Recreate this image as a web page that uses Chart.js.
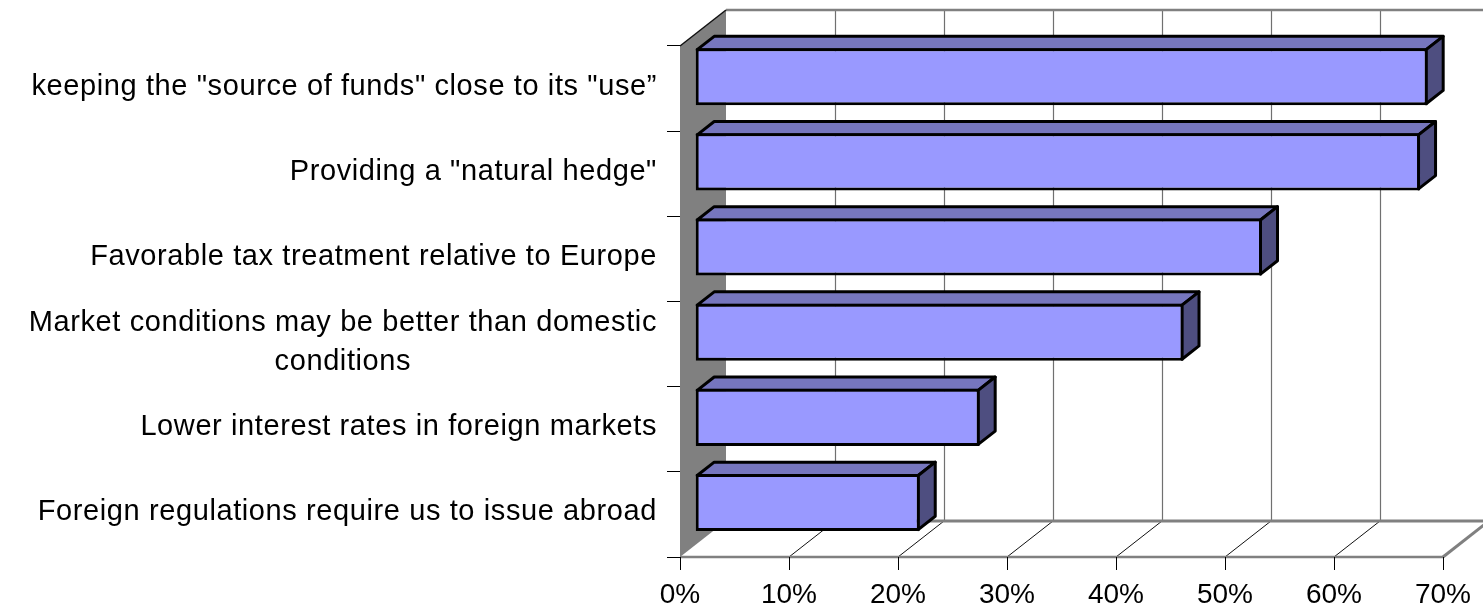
<!DOCTYPE html>
<html>
<head>
<meta charset="utf-8">
<title>Reasons for issuing debt abroad</title>
<script src="https://cdn.jsdelivr.net/npm/chart.js@4.4.1/dist/chart.umd.min.js"></script>
<style>
  html, body { margin: 0; padding: 0; background: #fff; }
  canvas { display: block; }
</style>
</head>
<body>
<canvas id="reasonsChart" width="1483" height="610"></canvas>
<script>
"use strict";

const categories = [
    'keeping the "source of funds" close to its "use\u201D',
    'Providing a "natural hedge"',
    'Favorable tax treatment relative to Europe',
    ['Market conditions may be better than domestic', 'conditions'],
    'Lower interest rates in foreign markets',
    'Foreign regulations require us to issue abroad'
];
const shares = [67.2, 66.5, 52.0, 44.8, 26.1, 20.6];
const percentTicks = [0, 10, 20, 30, 40, 50, 60, 70];

const FONT = "'Liberation Sans', Arial, sans-serif";
const LABEL_SIZE = 29;
const TICK_SIZE = 28;

// oblique depth of the plot box; the bars sit between 33% and 70% of it
const DEPTH_X = 46, DEPTH_Y = -36;
const BAR_FRONT = 0.33, BAR_BACK = 0.70;

const FRONT_COLOR = '#9999FF';
const TOP_COLOR = '#7676BE';
const SIDE_COLOR = '#4E4E80';
const WALL_GRAY = '#808080';

function line(ctx, x1, y1, x2, y2, color, width) {
    ctx.beginPath();
    ctx.moveTo(x1, y1);
    ctx.lineTo(x2, y2);
    ctx.strokeStyle = color;
    ctx.lineWidth = width;
    ctx.stroke();
}

function face(ctx, pts, fill) {
    ctx.beginPath();
    ctx.moveTo(pts[0][0], pts[0][1]);
    for (let i = 1; i < pts.length; i++) ctx.lineTo(pts[i][0], pts[i][1]);
    ctx.closePath();
    ctx.fillStyle = fill;
    ctx.fill();
    ctx.strokeStyle = '#000';
    ctx.lineWidth = 3;
    ctx.lineJoin = 'round';
    ctx.stroke();
}

// walls, floor and the grid on the back wall
const box3d = {
    id: 'box3d',
    beforeDraw(chart) {
        const { ctx, chartArea: a, scales: { x } } = chart;
        const L = a.left, R = a.right, T = a.top, B = a.bottom;
        ctx.save();

        // back wall grid + floor diagonals
        percentTicks.forEach(v => {
            if (v === 0) return;
            const px = Math.round(x.getPixelForValue(v));
            line(ctx, px + DEPTH_X + 0.5, T + DEPTH_Y, px + DEPTH_X + 0.5, B + DEPTH_Y, '#707070', 1.2);
            line(ctx, px, B, px + DEPTH_X, B + DEPTH_Y, '#111', 1);
        });
        line(ctx, L + DEPTH_X, T + DEPTH_Y, R + DEPTH_X + 20, T + DEPTH_Y, WALL_GRAY, 2.5);

        // floor edges
        line(ctx, L + DEPTH_X, B + DEPTH_Y, R + DEPTH_X + 20, B + DEPTH_Y, WALL_GRAY, 3);
        line(ctx, L, B, R, B, WALL_GRAY, 2.5);
        line(ctx, R, B, R + DEPTH_X, B + DEPTH_Y, WALL_GRAY, 3);

        // left wall
        ctx.beginPath();
        ctx.moveTo(L, T);
        ctx.lineTo(L + DEPTH_X, T + DEPTH_Y);
        ctx.lineTo(L + DEPTH_X, B + DEPTH_Y);
        ctx.lineTo(L, B);
        ctx.closePath();
        ctx.fillStyle = WALL_GRAY;
        ctx.fill();
        line(ctx, L, T, L + DEPTH_X, T + DEPTH_Y, '#111', 1.5);

        ctx.restore();
    },
    beforeDatasetsDraw(chart) {
        const ctx = chart.ctx;
        const ox = BAR_FRONT * DEPTH_X, oy = BAR_FRONT * DEPTH_Y;
        const bx = (BAR_BACK - BAR_FRONT) * DEPTH_X, by = (BAR_BACK - BAR_FRONT) * DEPTH_Y;
        ctx.save();
        chart.getDatasetMeta(0).data.forEach(bar => {
            const p = bar.getProps(['x', 'y', 'base', 'height'], true);
            // edges run through the middle of the 3px border
            const l = p.base + ox + 1.5, r = p.x + ox - 1.5;
            const t = p.y - p.height / 2 + oy + 1.5, b = p.y + p.height / 2 + oy - 1.5;
            face(ctx, [[l, t], [l + bx, t + by], [r + bx, t + by], [r, t]], TOP_COLOR);
            face(ctx, [[r, t], [r + bx, t + by], [r + bx, b + by], [r, b]], SIDE_COLOR);
        });
        ctx.restore();
        // front faces are drawn by chart.js, pushed into the box
        ctx.save();
        ctx.translate(ox, oy);
    },
    afterDatasetsDraw(chart) {
        chart.ctx.restore();
    }
};

// category names: block right aligned, lines centred inside the block
const categoryLabels = {
    id: 'categoryLabels',
    afterDraw(chart) {
        const { ctx, chartArea: a, scales: { y } } = chart;
        const right = a.left - 13 - 10;
        const lineHeight = 39;
        ctx.save();
        ctx.font = LABEL_SIZE + 'px ' + FONT;
        ctx.letterSpacing = '0.6px';
        ctx.fillStyle = '#000';
        ctx.textAlign = 'center';
        ctx.textBaseline = 'alphabetic';
        categories.forEach((label, i) => {
            const lines = Array.isArray(label) ? label : [label];
            const w = Math.max(...lines.map(s => ctx.measureText(s).width));
            const cy = y.getPixelForValue(i);
            lines.forEach((s, j) => {
                const ly = cy + (j - (lines.length - 1) / 2) * lineHeight + 6;
                ctx.fillText(s, right - w / 2, ly);
            });
        });
        ctx.restore();
    }
};

const ctx = document.getElementById('reasonsChart').getContext('2d');
new Chart(ctx, {
    type: 'bar',
    data: {
        labels: categories,
        datasets: [{
            data: shares,
            backgroundColor: FRONT_COLOR,
            borderColor: '#000',
            borderWidth: 3,
            borderSkipped: false,
            barPercentage: 0.67,
            categoryPercentage: 1
        }]
    },
    options: {
        indexAxis: 'y',
        responsive: false,
        devicePixelRatio: 1,
        animation: false,
        layout: { padding: { top: 46, right: 40, left: 0, bottom: 0 } },
        plugins: {
            legend: { display: false },
            tooltip: { enabled: false }
        },
        scales: {
            x: {
                min: 0,
                max: 70,
                afterBuildTicks: s => { s.ticks = percentTicks.map(v => ({ value: v })); },
                afterFit: s => { s.height = 53; },
                border: { display: false },
                grid: { drawOnChartArea: false, tickLength: 13, color: '#000', lineWidth: 1 },
                ticks: {
                    callback: v => v + '%',
                    color: '#000',
                    font: { family: FONT, size: TICK_SIZE },
                    padding: 8,
                    maxRotation: 0,
                    autoSkip: false
                }
            },
            y: {
                afterFit: s => { s.width = 680; },
                border: { display: false },
                grid: { drawOnChartArea: false, tickLength: 13, color: '#000', lineWidth: 1 },
                ticks: { display: false }
            }
        }
    },
    plugins: [box3d, categoryLabels]
});
</script>
</body>
</html>
